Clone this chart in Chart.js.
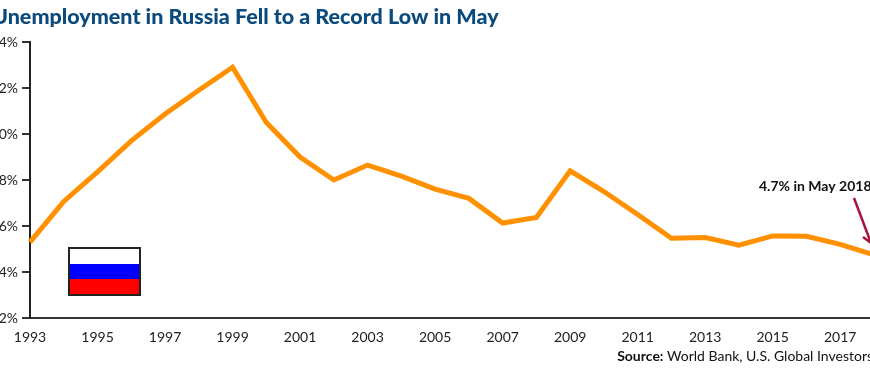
<!DOCTYPE html>
<html><head><meta charset="utf-8">
<style>html,body{margin:0;padding:0;background:#fff;overflow:hidden;width:870px;height:369px}
#wrap{position:absolute;left:-8px;top:0;width:882px;height:369px}
#flag{position:absolute;left:68px;top:247px;width:69px;height:45px;border:2px solid #222;
background:linear-gradient(#fff 0 33%,#0000ff 33% 66.5%,#ff0000 66.5% 100%)}
</style>
<script src="https://cdn.jsdelivr.net/npm/chart.js@4"></script>
</head><body>
<div id="wrap"><canvas id="c" width="882" height="369"></canvas></div>
<div id="flag"></div>
<script>
const years=["1993","1994","1995","1996","1997","1998","1999","2000","2001","2002","2003","2004","2005","2006","2007","2008","2009","2010","2011","2012","2013","2014","2015","2016","2017","2018"];
const unemployment=[5.3,7.07,8.35,9.7,10.87,11.9,12.9,10.5,9.0,8.0,8.65,8.17,7.6,7.2,6.13,6.37,8.4,7.5,6.5,5.47,5.5,5.17,5.57,5.55,5.2,4.74];
const yTicks=[2,4,6,8,10,12,14];
const titleText="Unemployment in Russia Fell to a Record Low in May";
const noteText="4.7% in May 2018";
const sourceBold="Source:";
const sourceText=" World Bank, U.S. Global Investors";
const extras={id:'extras',afterDatasetsDraw(ch){
  const c=ch.ctx,x=ch.scales.x,y=ch.scales.y;
  const px=x.getPixelForValue(years.length-1),py=y.getPixelForValue(unemployment[unemployment.length-1]);
  c.save();
  c.strokeStyle='#a6143f';c.lineWidth=2.5;c.lineCap='butt';
  const tx=px-3,ty=py-12;
  c.beginPath();c.moveTo(tx-17,ty-45);c.lineTo(tx,ty);c.moveTo(tx-8,ty-6);c.lineTo(tx,ty);c.stroke();
  c.fillStyle='#111';c.textBaseline='alphabetic';c.textAlign='left';
  c.font='bold 14px Lato';
  c.fillText(noteText,767,191);
  const w1=c.measureText(sourceBold).width;
  c.font='14px Lato';
  const w2=c.measureText(sourceText).width;
  const sx=881-w1-w2;
  c.font='bold 14px Lato';c.fillText(sourceBold,sx,361);
  c.font='14px Lato';c.fillText(sourceText,sx+w1,361);
  c.restore();
}};
new Chart(document.getElementById('c'),{
  type:'line',
  data:{labels:years,datasets:[{data:unemployment,borderColor:'#ff9100',borderWidth:5,pointRadius:0,tension:0,borderJoinStyle:'miter',clip:false}]},
  plugins:[extras],
  options:{
    responsive:false,animation:false,
    layout:{padding:{left:0,right:0,top:0,bottom:0}},
    plugins:{legend:{display:false},tooltip:{enabled:false},
      title:{display:true,text:titleText,align:'start',color:'#0b4a7d',font:{family:'Lato',size:21.5,weight:900,lineHeight:1.2},padding:{top:4,bottom:12.2}}},
    scales:{
      x:{type:'category',offset:false,
        afterFit(s){s.height=51;s.paddingRight=0;s.paddingLeft=0;},
        grid:{display:false},
        border:{display:true,color:'#333',width:2},
        ticks:{autoSkip:false,maxRotation:0,padding:3,color:'#222',font:{family:'Lato',size:14},
          callback(v,i){return i%2===0?years[i]:'';}}},
      y:{min:2,max:14,
        afterFit(s){s.width=38;s.paddingTop=0;s.paddingBottom=0;},
        afterBuildTicks(s){s.ticks=yTicks.map(v=>({value:v}));},
        grid:{drawOnChartArea:false,drawTicks:true,tickLength:8,color:'#333',lineWidth:2},
        border:{display:true,color:'#222',width:2},
        ticks:{padding:4,color:'#222',font:{family:'Lato',size:14},callback(v){return v+'%';}}}
    }
  }
});
</script></body></html>
